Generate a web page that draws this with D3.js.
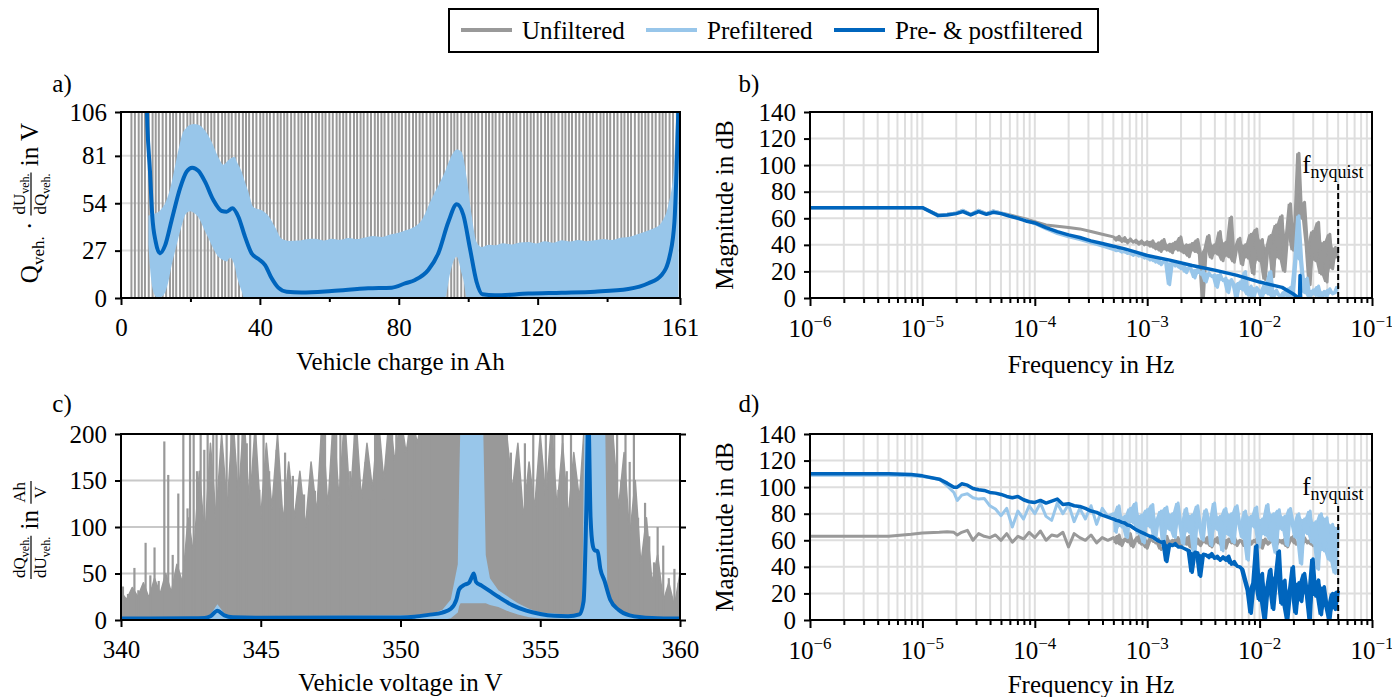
<!DOCTYPE html>
<html>
<head>
<meta charset="utf-8">
<script src="https://cdn.jsdelivr.net/npm/d3@7"></script>
<style>
  body { margin: 0; background: #fff; }
  svg { display: block; }
  svg text { font-family: "Liberation Serif", "Times New Roman", "DejaVu Serif", serif; }
</style>
</head>
<body>
<div id="chart"></div>
<script>
// ---------------- data ----------------

// a) Q * dU/dQ over vehicle charge
var chargeTicks = [0, 40, 80, 120, 161];
var chargeMinorTicks = [20, 60, 100, 140];
var dudqTicks = [0, 27, 54, 81, 106];

// unfiltered: flips between +inf and -inf at every sample
var rawChargeA = [
  3.0, 4.0, 5.1, 6.0, 6.9, 8.0, 9.1, 10.0, 10.9, 12.0,
  13.0, 14.1, 15.0, 15.9, 17.0, 18.0, 19.1, 20.0, 20.9, 22.0,
  23.0, 24.1, 25.0, 26.0, 26.9, 28.0, 29.1, 30.0, 31.0, 31.9,
  33.0, 34.0, 35.1, 36.0, 36.9, 38.0, 39.0, 40.1, 41.0, 42.0,
  42.9, 44.0, 45.1, 46.0, 47.0, 47.9, 49.0, 50.0, 51.1, 52.0,
  53.0, 53.9, 55.0, 56.1, 57.0, 58.0, 58.9, 60.0, 61.0, 62.1,
  63.0, 64.0, 64.9, 66.0, 67.1, 68.0, 69.0, 69.9, 71.0, 72.0,
  73.1, 74.0, 75.0, 75.9, 77.0, 78.1, 79.0, 80.0, 80.9, 82.0,
  83.0, 84.1, 85.0, 86.0, 86.9, 88.0, 89.1, 90.0, 91.0, 91.9,
  93.0, 94.0, 95.1, 96.0, 96.9, 98.0, 99.0, 100.1, 101.0, 102.0,
  102.9, 104.0, 105.1, 106.0, 107.0, 107.9, 109.0, 110.0, 111.1, 112.0,
  113.0, 113.9, 115.0, 116.1, 117.0, 118.0, 118.9, 120.0, 121.0, 122.1,
  123.0, 124.0, 124.9, 126.0, 127.1, 128.0, 129.0, 129.9, 131.0, 132.0,
  133.1, 134.0, 135.0, 135.9, 137.0, 138.1, 139.0, 140.0, 140.9, 142.0,
  143.0, 144.1, 145.0, 146.0, 146.9, 148.0, 149.1, 150.0, 151.0, 151.9,
  153.0, 154.0, 155.1, 156.0, 156.9, 158.0, 159.0, 160.1];
var rawSwingA = [-1000, 1000];

// prefiltered: fast oscillation, kept as min / max envelope
var chargePre = [7.9, 8.6, 9.4, 10.2, 10.7, 11.5, 12.7, 13.6, 14.6, 16.0,
  16.5, 17.9, 18.4, 19.9, 21.0, 22.3, 24.2, 25.2, 26.1, 28.0,
  29.5, 30.4, 31.4, 32.8, 33.3, 34.8, 35.4, 36.7, 38.1, 40.5,
  42.4, 44.4, 46.3, 48.5, 51.1, 53.5, 55.9, 58.3, 60.7, 63.1,
  65.5, 67.9, 70.3, 72.7, 75.1, 77.5, 79.9, 81.8, 83.7, 86.6,
  89.5, 92.4, 93.3, 94.8, 96.2, 96.7, 97.1, 98.1, 98.6, 99.6,
  101.0, 102.4, 103.9, 105.8, 107.7, 110.1, 112.5, 114.9, 117.3, 119.7,
  122.1, 124.5, 126.9, 129.3, 131.7, 134.1, 136.5, 138.9, 141.3, 143.7,
  146.1, 149.0, 151.9, 153.8, 155.7, 157.6, 159.1, 160.0, 160.6];
var preHiA = [47, 47.5, 48, 48.5, 49, 50.5, 54, 58.5, 66, 79.4,
  84, 94.6, 96, 98.8, 99.2, 98.8, 95.5, 92.5, 89, 80.4,
  76, 77.5, 79.4, 80.4, 78, 71.8, 68, 60.4, 51.9, 50,
  47, 40.3, 33.7, 32.5, 32.7, 33.5, 33.7, 32.8, 33.8, 33.2,
  34.2, 33.6, 34.5, 35.3, 34.8, 36.2, 37.2, 38.5, 39.7, 44.4,
  56.7, 68.1, 72, 79.4, 84, 84.7, 84.5, 83.2, 80, 68.1,
  47, 31.9, 29, 30.4, 30, 31.2, 30.5, 31.6, 31.9, 31.1,
  32.3, 31.5, 32.9, 32.2, 33.1, 32.4, 32.9, 33.6, 33, 34.2,
  34.7, 36.5, 38.5, 40, 43.2, 52.7, 71.6, 106, 130];
var preLoA = [30, 12, 3, 0.5, 0, 0.5, 3.2, 9, 18.8, 30,
  34, 44, 47, 49.4, 48.5, 46, 38, 34, 30, 23.6,
  21.5, 20.8, 23, 18, 13, 3.6, 0, 0, 0, 0,
  0, 0, 0, 0, 0, 0, 0, 0, 0, 0,
  0, 0, 0, 0, 0, 0, 0, 0, 0, 0,
  0, 0, 0, 14.2, 22.8, 23.5, 21.9, 14, 10.5, 0,
  0, 0, 0, 0, 0, 0, 0, 0, 0, 0,
  0, 0, 0, 0, 0, 0, 0, 0, 0, 0,
  0, 0, 0, 0, 0, 0, 0, 0, 0];

// pre- & postfiltered
var chargePost = [7.2, 7.6, 8.35, 9.0, 10.0, 11.2, 12.7, 14.6, 17.0, 18.9,
  20.5, 22.3, 24.2, 26.6, 29.0, 30.4, 32.1, 33.8, 35.7, 37.6,
  39.6, 41.5, 43.4, 45.3, 47.7, 52.0, 60.7, 71.2, 78.0, 81.8,
  84.7, 88.5, 91.4, 94.3, 96.7, 98.6, 100.5, 102.4, 104.1, 107.7,
  117.3, 126.9, 136.5, 146.1, 151.9, 155.7, 158.1, 159.4, 160.0, 160.5, 161.0];
var dudqPost = [125, 98, 72, 47, 32, 25.5, 30, 44.5, 62.5, 72,
  74.3, 72.4, 66.3, 55.8, 49.6, 49.2, 51.1, 46.3, 35, 25.5,
  22.2, 18.8, 11.2, 5.9, 3.6, 3.2, 4, 5.5, 5.9, 8.3,
  10.3, 16, 25.5, 43.5, 53.4, 47.3, 28.3, 9.3, 2.1, 1.5,
  2.5, 3, 3.6, 5.1, 8.4, 13.1, 24.5, 43.5, 72, 106, 130];

// c) dQ/dU over vehicle voltage
var voltTicks = [340, 345, 350, 355, 360];
var dqduTicks = [0, 50, 100, 150, 200];

// unfiltered: dense body read every 0.2 V, plus single spikes
var voltGridC = d3.range(101).map(function(i) { return 340 + 0.2 * i; });
var rawMassC = [30, 22, 35, 25, 40, 24, 45, 28, 50, 30,
  60, 40, 110, 70, 160, 90, 190, 110, 200, 120,
  220, 130, 220, 120, 210, 110, 190, 120, 200, 105,
  170, 110, 160, 100, 170, 115, 220, 120, 220, 130,
  220, 125, 220, 130, 190, 140, 220, 150, 220, 170,
  220, 180, 220, 190, 220, 220, 220, 220, 220, 220,
  220, 220, 220, 220, 220, 220, 220, 220, 220, 200,
  140, 190, 110, 170, 120, 200, 130, 210, 120, 190,
  110, 180, 130, 220, 220, 220, 220, 220, 200, 120,
  180, 90, 150, 60, 110, 40, 70, 20, 40, 15,
  50];
var spikeVolt = [340.07, 340.25, 340.48, 340.62, 340.88, 341.05, 341.2, 341.35, 341.55, 341.69,
  341.85, 342.05, 342.23, 342.38, 342.47, 342.6, 342.72, 342.85, 342.98, 343.1,
  343.3, 343.42, 343.55, 343.78, 343.95, 344.08, 344.2, 344.35, 344.5, 344.62,
  344.8, 344.95, 345.1, 345.3, 345.57, 345.72, 345.87, 346.02, 346.15, 346.35,
  346.55, 346.75, 346.94, 347.12, 347.3, 347.54, 347.7, 347.85, 348.0, 348.2,
  348.37, 348.55, 348.75, 348.9, 349.09, 349.25, 349.39, 349.57, 349.7, 349.85,
  350.0, 350.15, 350.3, 350.5, 350.7, 350.9, 351.1, 353.8, 353.95, 354.1,
  354.3, 354.45, 354.6, 354.75, 354.9, 355.05, 355.2, 355.35, 355.5, 355.65,
  355.8, 355.95, 356.1, 356.25, 357.6, 357.75, 357.9, 358.05, 358.2, 358.35,
  358.5, 358.75, 358.9, 359.07, 359.2, 359.4, 359.6, 359.8, 359.95];
var spikeHeight = [36, 28, 56, 32, 83, 48, 78, 42, 192, 156,
  70, 136, 220, 120, 220, 220, 160, 220, 183, 220,
  220, 220, 150, 220, 220, 170, 220, 220, 190, 220,
  220, 140, 220, 160, 183, 120, 180, 150, 155, 120,
  135, 115, 139, 146, 220, 136, 220, 220, 220, 160,
  220, 140, 170, 130, 220, 150, 130, 220, 220, 220,
  220, 180, 220, 220, 220, 220, 220, 220, 180, 160,
  130, 190, 150, 220, 140, 170, 220, 150, 220, 140,
  220, 160, 200, 140, 220, 220, 150, 220, 170, 220,
  110, 126, 90, 62, 100, 80, 45, 55, 40];

// prefiltered envelope
var voltPre = [340, 343.0, 343.2, 343.45, 343.7, 344.0, 351.0, 351.5, 351.8, 352.05,
  352.1, 352.15, 352.95, 353.05, 353.2, 353.5, 353.8, 354.2, 354.6, 355.0,
  356.0, 356.5, 356.58, 357.32, 357.4, 357.8, 358.5, 360];
var preHiC = [2.5, 2.5, 6, 17, 7, 4, 5, 11, 22, 60,
  150, 220, 220, 70, 45, 32, 26, 18, 12, 8,
  6, 6, 220, 220, 30, 10, 4, 2.5];
var preLoC = [0, 0, 0, 1, 0, 0, 0, 0, 2, 8,
  15, 18, 18, 18, 16, 14, 10, 6, 3, 2,
  1, 1, 0, 0, 0, 0, 0, 0];

// pre- & postfiltered
var voltPost = [340, 342.5, 343.0, 343.2, 343.45, 343.7, 344.0, 345.0, 350.0, 350.5,
  351.0, 351.5, 351.8, 352.0, 352.1, 352.3, 352.45, 352.55, 352.62, 352.7,
  352.9, 353.2, 353.5, 354.0, 354.5, 355.0, 355.5, 356.0, 356.4, 356.55,
  356.65, 356.72, 356.8, 356.88, 356.95, 357.05, 357.15, 357.3, 357.5, 357.8,
  358.2, 359.0, 360.0];
var dqduPost = [1.5, 1.8, 2.2, 4, 10, 5, 3, 2.5, 2.8, 3.5,
  5.5, 8, 12, 22, 33, 38, 40, 46, 50, 41,
  37, 31, 25, 16, 10, 6.5, 4.5, 4, 6, 20,
  120, 220, 110, 80, 75, 74, 55, 42, 22, 11,
  5, 2.2, 1.5];

// b) and d) spectra, magnitude in dB over log10(frequency)
var freqExponents = [-6, -5, -4, -3, -2, -1];
var magTicks = [0, 20, 40, 60, 80, 100, 120, 140];
var fNyquist = 0.05;

// FFT bins above 5e-4 Hz, one value per 0.025 decade
var noisyLogF = d3.range(81).map(function(i) { return -3.3 + 0.025 * i; });

// b) spectrum of dU/dQ
var logFB = [-6, -5, -4.86, -4.78, -4.70, -4.64, -4.57, -4.50, -4.43, -4.37,
  -4.30, -4.22, -4.15, -4.08, -4.00, -3.90, -3.80, -3.70, -3.60, -3.50, -3.40];
var grayBLow = [68, 68, 62.5, 63, 64, 66, 63, 66, 63.5, 65.5,
  64, 62.5, 61, 59.5, 57.5, 55, 54, 53, 52, 50, 48];
var lightBLow = [68, 68, 62.5, 63, 64, 66, 63, 66, 63.5, 65.5,
  64, 62, 60, 58.5, 56, 52, 48.5, 46, 44, 41.5, 39];
var grayBHigh = [46, 43.5, 46.5, 42.5, 45.5, 41.5, 44.5, 42, 43.5, 40.5,
  43, 40, 42.5, 39, 43, 37, 41.5, 35, 44, 36,
  40.5, 34, 42, 36, 46, 34, 40, 31, 41, 35,
  44, 33, 0, 37, 47, 30, 40, 33, 50, 28,
  42, 31, 61, 27, 39, 45, 25, 40, 30, 48,
  18, 52, 28, 44, 14, 38, 47, 16, 55, 30,
  62, 20, 48, 71, 36, 56, 109, 60, 72, 40,
  10, 50, 28, 57, 18, 42, 12, 48, 22, 38,
  30];
var lightBHigh = [36.5, 35.5, 36, 34.5, 35, 33.5, 34, 32, 33.5, 31.5,
  32.5, 30, 31, 28.5, 31, 27, 29.5, 25, 28, 26.5,
  10, 27, 24, 26.5, 22, 25, 19, 23.5, 21, 15,
  22, 18, 20.5, 12, 19, 16, 17.5, 8, 18, 13,
  15, 4, 14, 10, 0, 12, 6, 20, 2, 9,
  0, 8, 5, 0, 10, 3, 20, 0, 6, 2,
  0, 5, 1, 8, 0, 30, 62, 28, 4, 15,
  0, 6, 2, 9, 0, 5, 1, 7, 3, 4,
  9];
var darkBLogF = [-6, -5, -4.86, -4.78, -4.70, -4.64, -4.57, -4.50, -4.43, -4.37,
  -4.30, -4.22, -4.15, -4.08, -4.00, -3.90, -3.80, -3.70, -3.60, -3.50,
  -3.40, -3.30, -3.20, -3.10, -3.00, -2.80, -2.60, -2.40, -2.20, -2.00,
  -1.80, -1.70, -1.66, -1.645, -1.64, -1.635, -1.60, -1.50, -1.30];
var darkBVal = [68, 68, 62, 62.5, 63.5, 65, 62.5, 65, 63, 64.5,
  63.5, 61.5, 60, 58, 56.5, 53, 50, 47.5, 45.5, 43,
  41, 39, 37, 34.5, 32, 28.5, 24.5, 21, 17, 12,
  8, 3, 0.5, 0, 17, 0, -4, -10, -16];

// d) spectrum of dQ/dU
var logFD = [-6, -5.3, -5.1, -5.0, -4.85, -4.78, -4.72, -4.69, -4.65, -4.6,
  -4.55, -4.5, -4.45, -4.4, -4.35, -4.3, -4.25, -4.2, -4.15, -4.1,
  -4.05, -4.0, -3.95, -3.9, -3.85, -3.8, -3.75, -3.7, -3.65, -3.6,
  -3.55, -3.5, -3.45, -3.4, -3.35];
var grayDLow = [63, 63, 64.5, 65.5, 66, 66.5, 66, 64, 66, 67.5,
  60, 65, 63, 62, 64, 60, 65, 58.5, 63, 61,
  66, 62, 67, 60, 64, 63, 66, 55, 65, 62,
  60, 64, 58, 62, 60];
var lightDLow = [109, 109, 108.5, 108, 106, 101, 96, 90, 94, 95,
  92, 91, 91.5, 86, 83.5, 78.5, 84, 70, 82, 76,
  86, 80, 88, 78, 75, 88, 80, 87, 74, 84,
  76, 86, 72, 84, 78];
var darkDLow = [110, 110, 109.5, 108.5, 106, 103, 100, 100, 102.5, 101.5,
  99, 98, 97.5, 96, 95.5, 94.5, 93, 92, 93, 90.5,
  89, 88.5, 90, 88, 89.5, 91, 87, 87.5, 86, 85.5,
  84, 82, 81, 79, 77.5];
var grayDHigh = [62, 58, 64, 56, 61, 59, 65, 55, 60, 63,
  57, 62, 54, 60, 64, 58, 61, 53, 59, 63,
  56, 60, 58, 62, 55, 61, 57, 63, 54, 59,
  61, 56, 60, 58, 63, 55, 59, 62, 57, 60,
  54, 61, 58, 63, 56, 60, 59, 55, 62, 57,
  60, 58, 63, 54, 61, 57, 59, 62, 56, 60,
  58, 61, 55, 60, 63, 57, 59, 54, 62, 58,
  60, 56, 61, 58, 63, 55, 59, 60, 57, 61,
  58];
var lightDHigh = [80, 66, 86, 70, 78, 62, 84, 73, 88, 65,
  79, 58, 83, 70, 87, 60, 76, 82, 55, 85,
  68, 80, 62, 88, 72, 57, 84, 66, 79, 48,
  86, 70, 60, 83, 75, 56, 88, 68, 78, 52,
  84, 64, 80, 58, 86, 72, 62, 82, 45, 78,
  70, 85, 55, 76, 64, 87, 60, 80, 50, 83,
  68, 78, 56, 84, 72, 62, 80, 42, 76, 65,
  82, 58, 74, 38, 80, 52, 77, 45, 72, 35,
  70];
var darkDHigh = [76, 75, 74.5, 73.5, 73, 71.5, 71, 69.5, 68, 67,
  66, 65, 64, 63, 62.5, 61, 59.5, 58.5, 59, 44,
  57, 56, 57.5, 55, 55, 54, 53, 52, 36, 51,
  50.5, 33, 49.5, 49, 47, 50, 46.5, 48, 45, 47.5,
  45, 48, 42, 44, 40.5, 40, 38, 30, 22, 5,
  28, 56, 15, 35, 0, 25, 38, 8, 32, 52,
  12, 30, 0, 22, 40, 5, 28, 14, 35, 20,
  0, 46, 18, 30, 4, 25, 10, 0, 20, 8,
  22];

var legendNames = ["Unfiltered", "Prefiltered", "Pre- & postfiltered"];

// ---------------- drawing ----------------

var FONT = '"Liberation Serif", "Times New Roman", "DejaVu Serif", serif';
var colGray = "#999999", colLight = "#98c6ea", colDark = "#0065bd";
var colGrid = "#dedede";

var svg = d3.select("#chart")
  .append("svg")
  .attr("width", 1392)
  .attr("height", 697)
  .attr("font-family", FONT);

var defs = svg.append("defs");

var layout = {
  a: {left: 121, top: 112, width: 559, height: 186},
  b: {left: 810, top: 112, width: 562, height: 186},
  c: {left: 121, top: 434, width: 559, height: 186},
  d: {left: 810, top: 434, width: 562, height: 186}
};

function makePanel(id) {
  var p = layout[id];
  defs.append("clipPath").attr("id", "clip-" + id)
    .append("rect").attr("width", p.width).attr("height", p.height);
  return svg.append("g").attr("transform", `translate(${p.left}, ${p.top})`);
}

function styleAxis(sel) {
  sel.attr("font-family", FONT).attr("font-size", 25);
  sel.select(".domain").remove();
  sel.selectAll(".tick line").attr("stroke", "#000").attr("stroke-width", 2);
  sel.selectAll(".tick text").attr("fill", "#000");
}

function frame(g, id) {
  g.append("rect")
    .attr("width", layout[id].width)
    .attr("height", layout[id].height)
    .attr("fill", "none")
    .attr("stroke", "#000")
    .attr("stroke-width", 2);
}

function hGrid(g, id, y, values, color) {
  g.append("g").selectAll("line")
    .data(values)
    .enter()
    .append("line")
    .attr("x1", 0)
    .attr("x2", layout[id].width)
    .attr("y1", d => y(d))
    .attr("y2", d => y(d))
    .attr("stroke", color)
    .attr("stroke-width", 2);
}

function subText(t, pair, size) {
  t.append("tspan").text(pair[0]);
  if (pair[1]) {
    t.append("tspan")
      .attr("font-size", Math.round(size * 0.68))
      .attr("dy", size * 0.24)
      .text(pair[1]);
  }
}

// rotated axis title built from plain pieces and fractions
function mathTitle(cx, cy, parts) {
  var g = svg.append("g").attr("transform", `translate(${cx}, ${cy}) rotate(-90)`);
  var inner = g.append("g");
  var x = 0;
  parts.forEach(function(p) {
    if (p.num) {
      var tn = inner.append("text").attr("y", -13).attr("font-size", p.size);
      subText(tn, p.num, p.size);
      var td = inner.append("text").attr("y", 8).attr("font-size", p.size);
      subText(td, p.den, p.size);
      var wn = tn.node().getComputedTextLength();
      var wd = td.node().getComputedTextLength();
      var w = Math.max(wn, wd) + 2;
      tn.attr("x", x + (w - wn) / 2);
      td.attr("x", x + (w - wd) / 2);
      inner.append("line")
        .attr("x1", x).attr("x2", x + w)
        .attr("y1", -7).attr("y2", -7)
        .attr("stroke", "#000").attr("stroke-width", 1.2);
      x += w;
    } else {
      var t = inner.append("text")
        .attr("x", x)
        .attr("font-size", p.size)
        .style("white-space", "pre");
      subText(t, p.text, p.size);
      x += t.node().getComputedTextLength();
    }
  });
  inner.attr("transform", `translate(${-x / 2}, 0)`);
}

function plainText(x, y, str, rotate) {
  var t = svg.append("text")
    .attr("font-size", 25)
    .attr("text-anchor", "middle")
    .text(str);
  if (rotate) t.attr("transform", `translate(${x}, ${y}) rotate(-90)`);
  else t.attr("x", x).attr("y", y);
  return t;
}

// ---- legend ----
var legend = svg.append("g");
legend.append("rect")
  .attr("x", 449).attr("y", 9)
  .attr("width", 649).attr("height", 43)
  .attr("fill", "#fff").attr("stroke", "#000").attr("stroke-width", 2);
var legendItems = [
  {x: 461, color: colGray},
  {x: 646, color: colLight},
  {x: 834, color: colDark}
];
legendItems.forEach(function(item, i) {
  legend.append("line")
    .attr("x1", item.x).attr("x2", item.x + 51)
    .attr("y1", 30).attr("y2", 30)
    .attr("stroke", item.color).attr("stroke-width", 4);
  legend.append("text")
    .attr("x", item.x + 61).attr("y", 38.5)
    .attr("font-size", 25)
    .text(legendNames[i]);
});

// ---- a) ----
var gA = makePanel("a");
var xA = d3.scaleLinear().domain([0, 161]).range([0, layout.a.width]);
var yA = d3.scaleLinear().domain([0, 106]).range([layout.a.height, 0]);

hGrid(gA, "a", yA, dudqTicks.slice(1, -1), colGrid);

var plotA = gA.append("g").attr("clip-path", "url(#clip-a)");

plotA.selectAll(".raw")
  .data(rawChargeA)
  .enter()
  .append("line")
  .attr("x1", d => xA(d))
  .attr("x2", d => xA(d))
  .attr("y1", yA(rawSwingA[0]))
  .attr("y2", yA(rawSwingA[1]))
  .attr("stroke", colGray)
  .attr("stroke-width", 2);

var bandA = chargePre.map((q, i) => ({q: q, lo: preLoA[i], hi: preHiA[i]}));
plotA.append("path")
  .datum(bandA)
  .attr("d", d3.area().curve(d3.curveMonotoneX)
    .x(d => xA(d.q)).y0(d => yA(d.lo)).y1(d => yA(d.hi)))
  .attr("fill", colLight);

plotA.append("path")
  .datum(chargePost.map((q, i) => ({q: q, v: dudqPost[i]})))
  .attr("d", d3.line().curve(d3.curveMonotoneX).x(d => xA(d.q)).y(d => yA(d.v)))
  .attr("fill", "none")
  .attr("stroke", colDark)
  .attr("stroke-width", 4)
  .attr("stroke-linejoin", "round");

frame(gA, "a");
gA.append("g").call(d3.axisLeft(yA).tickValues(dudqTicks).tickSize(6).tickPadding(8)).call(styleAxis);
gA.append("g").attr("transform", `translate(0, ${layout.a.height})`)
  .call(d3.axisBottom(xA).tickValues(chargeTicks).tickSize(7).tickPadding(13)).call(styleAxis);
gA.append("g").attr("transform", `translate(0, ${layout.a.height})`)
  .call(d3.axisBottom(xA).tickValues(chargeMinorTicks).tickSize(4).tickFormat("")).call(styleAxis);

// ---- c) ----
var gC = makePanel("c");
var xC = d3.scaleLinear().domain([340, 360]).range([0, layout.c.width]);
var yC = d3.scaleLinear().domain([0, 200]).range([layout.c.height, 0]);

hGrid(gC, "c", yC, dqduTicks.slice(1, -1), "#c8c8c8");

var plotC = gC.append("g").attr("clip-path", "url(#clip-c)");

plotC.append("path")
  .datum(voltGridC.map((v, i) => ({v: v, h: rawMassC[i]})))
  .attr("d", d3.area().x(d => xC(d.v)).y0(yC(0)).y1(d => yC(d.h)))
  .attr("fill", colGray)
  .attr("stroke", colGray)
  .attr("stroke-width", 1.5)
  .attr("stroke-linejoin", "round");

plotC.selectAll(".spike")
  .data(spikeVolt.map((v, i) => ({v: v, h: spikeHeight[i]})))
  .enter()
  .append("line")
  .attr("x1", d => xC(d.v))
  .attr("x2", d => xC(d.v))
  .attr("y1", yC(0))
  .attr("y2", d => yC(d.h))
  .attr("stroke", colGray)
  .attr("stroke-width", 2.2);

plotC.append("path")
  .datum(voltPre.map((v, i) => ({v: v, lo: preLoC[i], hi: preHiC[i]})))
  .attr("d", d3.area().x(d => xC(d.v)).y0(d => yC(d.lo)).y1(d => yC(d.hi)))
  .attr("fill", colLight);

plotC.append("path")
  .datum(voltPost.map((v, i) => ({v: v, q: dqduPost[i]})))
  .attr("d", d3.line().curve(d3.curveMonotoneX).x(d => xC(d.v)).y(d => yC(d.q)))
  .attr("fill", "none")
  .attr("stroke", colDark)
  .attr("stroke-width", 4)
  .attr("stroke-linejoin", "round");

frame(gC, "c");
gC.append("g").call(d3.axisLeft(yC).tickValues(dqduTicks).tickSize(6).tickPadding(8)).call(styleAxis);
gC.append("g").attr("transform", `translate(${layout.c.width}, 0)`)
  .call(d3.axisRight(yC).tickValues(dqduTicks).tickSize(6).tickFormat("")).call(styleAxis);
gC.append("g").attr("transform", `translate(0, ${layout.c.height})`)
  .call(d3.axisBottom(xC).tickValues(voltTicks).tickSize(7).tickPadding(13)).call(styleAxis);

// ---- b) and d) spectra ----

// the noisy bins oscillate from one bin to the next: fill between neighbours
function noisyBand(vals) {
  return noisyLogF.map(function(lf, i) {
    var w = vals.slice(i, i + 2);
    return {lf: lf, lo: d3.min(w), hi: d3.max(w)};
  });
}

function drawSpectrum(id, series) {
  var p = layout[id];
  var g = makePanel(id);
  var x = d3.scaleLog().domain([1e-6, 1e-1]).range([0, p.width]);
  var y = d3.scaleLinear().domain([0, 140]).range([p.height, 0]);
  var allTicks = x.ticks();
  var decades = freqExponents.map(e => Math.pow(10, e));
  var minor = allTicks.filter(t => decades.indexOf(t) < 0);

  g.append("g").selectAll("line")
    .data(allTicks)
    .enter()
    .append("line")
    .attr("x1", d => x(d)).attr("x2", d => x(d))
    .attr("y1", 0).attr("y2", p.height)
    .attr("stroke", colGrid).attr("stroke-width", 2);
  hGrid(g, id, y, magTicks.slice(1, -1), colGrid);

  var plot = g.append("g").attr("clip-path", `url(#clip-${id})`);
  var line = d3.line().x(d => x(Math.pow(10, d.lf))).y(d => y(d.v));
  var area = d3.area().x(d => x(Math.pow(10, d.lf))).y0(d => y(d.lo)).y1(d => y(d.hi));
  series.forEach(function(s) {
    if (s.band) {
      plot.append("path")
        .datum(s.band)
        .attr("d", area)
        .attr("fill", s.color);
    }
    plot.append("path")
      .datum(s.data)
      .attr("d", line)
      .attr("fill", "none")
      .attr("stroke", s.color)
      .attr("stroke-width", s.width)
      .attr("stroke-linejoin", "round");
  });

  // Nyquist frequency marker
  var nyqTop = 86;
  g.append("line")
    .attr("x1", x(fNyquist)).attr("x2", x(fNyquist))
    .attr("y1", y(0)).attr("y2", y(nyqTop))
    .attr("stroke", "#000").attr("stroke-width", 2)
    .attr("stroke-dasharray", "6,3");
  var lab = g.append("text")
    .attr("x", x(fNyquist) - 36)
    .attr("y", y(nyqTop) - 11)
    .attr("font-size", 25);
  lab.append("tspan").text("f");
  lab.append("tspan").attr("font-size", 18).attr("dy", 5).text("nyquist");

  frame(g, id);
  g.append("g").call(d3.axisLeft(y).tickValues(magTicks).tickSize(6).tickPadding(8)).call(styleAxis);
  g.append("g").attr("transform", `translate(0, ${p.height})`)
    .call(d3.axisBottom(x).tickValues(decades).tickSize(8).tickFormat("")).call(styleAxis);
  g.append("g").attr("transform", `translate(0, ${p.height})`)
    .call(d3.axisBottom(x).tickValues(minor).tickSize(5).tickFormat("")).call(styleAxis);

  g.selectAll(".declabel")
    .data(freqExponents)
    .enter()
    .append("text")
    .attr("x", e => x(Math.pow(10, e)))
    .attr("y", p.height + 38.5)
    .attr("text-anchor", "middle")
    .attr("font-size", 25)
    .each(function(e) {
      d3.select(this).append("tspan").text("10");
      d3.select(this).append("tspan").attr("font-size", 17).attr("dy", -10).text("\u2212" + Math.abs(e));
    });
}

function joinSeries(lowLogF, lowVals, highVals) {
  return lowLogF.map((lf, i) => ({lf: lf, v: lowVals[i]}))
    .concat(noisyLogF.map((lf, i) => ({lf: lf, v: highVals[i]})));
}

drawSpectrum("b", [
  {data: joinSeries(logFB, grayBLow, grayBHigh), band: noisyBand(grayBHigh), color: colGray, width: 3},
  {data: joinSeries(logFB, lightBLow, lightBHigh), band: noisyBand(lightBHigh), color: colLight, width: 3},
  {data: darkBLogF.map((lf, i) => ({lf: lf, v: darkBVal[i]})), color: colDark, width: 3.5}
]);

drawSpectrum("d", [
  {data: joinSeries(logFD, grayDLow, grayDHigh), band: noisyBand(grayDHigh), color: colGray, width: 3},
  {data: joinSeries(logFD, lightDLow, lightDHigh), band: noisyBand(lightDHigh), color: colLight, width: 3},
  {data: joinSeries(logFD, darkDLow, darkDHigh), band: noisyBand(darkDHigh), color: colDark, width: 3.5}
]);

// ---- titles and panel letters ----
plainText(400.5, 370, "Vehicle charge in Ah");
plainText(400.5, 691, "Vehicle voltage in V");
plainText(1091, 373, "Frequency in Hz");
plainText(1091, 693, "Frequency in Hz");
plainText(733, 205, "Magnitude in dB", true);
plainText(733, 527, "Magnitude in dB", true);

mathTitle(38, 203, [
  {text: ["Q", "veh."], size: 25},
  {text: [" \u00b7 "], size: 25},
  {num: ["dU", "veh."], den: ["dQ", "veh."], size: 17},
  {text: [" in V"], size: 25}
]);
mathTitle(38, 530, [
  {num: ["dQ", "veh."], den: ["dU", "veh."], size: 17},
  {text: [" in "], size: 25},
  {num: ["Ah"], den: ["V"], size: 17}
]);

[["a)", 62, 92], ["b)", 749, 92], ["c)", 62, 412], ["d)", 749, 412]].forEach(function(l) {
  plainText(l[1], l[2], l[0]);
});
</script>
</body>
</html>
